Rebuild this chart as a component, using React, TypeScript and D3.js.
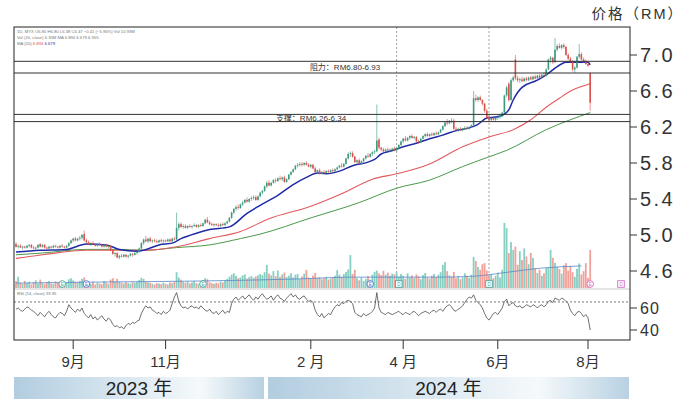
import React from "react";
import * as d3 from "d3";

const W = 690;
const H = 402;

// daily candles [open, high, low, close]
const candles: number[][] = [
  [4.90,4.92,4.86,4.87],[4.87,4.89,4.85,4.88],[4.88,4.90,4.86,4.86],[4.86,4.88,4.84,4.87],[4.87,4.88,4.85,4.86],
  [4.86,4.89,4.85,4.88],[4.88,4.90,4.86,4.89],[4.89,4.90,4.85,4.86],[4.86,4.88,4.84,4.85],[4.85,4.87,4.83,4.86],
  [4.86,4.90,4.85,4.89],[4.90,4.91,4.86,4.87],[4.87,4.90,4.86,4.89],[4.89,4.90,4.85,4.86],[4.86,4.87,4.84,4.85],
  [4.85,4.88,4.84,4.87],[4.87,4.88,4.85,4.86],[4.86,4.89,4.85,4.88],[4.88,4.89,4.86,4.87],[4.87,4.88,4.85,4.86],
  [4.86,4.89,4.85,4.88],[4.88,4.90,4.86,4.87],[4.87,4.88,4.85,4.86],[4.86,4.89,4.85,4.88],[4.88,4.92,4.87,4.91],
  [4.91,4.95,4.90,4.94],[4.94,4.97,4.92,4.96],[4.96,4.98,4.93,4.94],[4.94,4.97,4.93,4.96],[4.96,4.99,4.94,4.97],
  [4.97,5.01,4.95,5.00],[5.01,5.05,4.93,4.94],[4.94,4.96,4.91,4.92],[4.92,4.94,4.89,4.90],[4.90,4.92,4.88,4.91],
  [4.91,4.93,4.89,4.90],[4.90,4.91,4.87,4.88],[4.88,4.91,4.87,4.90],[4.90,4.92,4.88,4.89],[4.89,4.90,4.86,4.87],
  [4.87,4.90,4.86,4.89],[4.89,4.90,4.86,4.87],[4.87,4.89,4.85,4.88],[4.88,4.89,4.82,4.83],[4.83,4.84,4.78,4.79],
  [4.79,4.81,4.76,4.80],[4.80,4.81,4.74,4.75],[4.75,4.78,4.73,4.77],[4.77,4.79,4.75,4.76],[4.76,4.79,4.75,4.78],
  [4.78,4.79,4.75,4.76],[4.76,4.78,4.74,4.77],[4.77,4.80,4.76,4.79],[4.79,4.80,4.76,4.78],[4.78,4.81,4.77,4.80],
  [4.80,4.82,4.78,4.81],[4.81,4.86,4.80,4.85],[4.85,4.92,4.84,4.91],[4.91,4.96,4.89,4.95],[4.95,4.99,4.92,4.93],
  [4.93,4.97,4.91,4.96],[4.96,4.98,4.92,4.93],[4.93,4.95,4.91,4.94],[4.94,4.96,4.92,4.93],[4.93,4.95,4.91,4.92],
  [4.92,4.95,4.91,4.94],[4.94,4.96,4.92,4.93],[4.93,4.95,4.91,4.94],[4.94,4.95,4.92,4.93],[4.93,4.96,4.92,4.95],
  [4.95,4.96,4.92,4.93],[4.93,4.97,4.92,4.96],[4.96,4.98,4.94,4.95],[4.95,5.25,4.94,5.08],[5.08,5.14,5.05,5.12],
  [5.12,5.14,5.08,5.09],[5.09,5.12,5.07,5.10],[5.10,5.12,5.07,5.08],[5.08,5.11,5.07,5.10],[5.10,5.12,5.08,5.09],
  [5.09,5.11,5.07,5.10],[5.10,5.13,5.09,5.11],[5.11,5.12,5.08,5.09],[5.09,5.12,5.08,5.11],[5.11,5.13,5.09,5.10],
  [5.10,5.14,5.09,5.13],[5.13,5.18,5.12,5.17],[5.17,5.20,5.13,5.14],[5.14,5.16,5.11,5.12],[5.12,5.14,5.10,5.11],
  [5.11,5.13,5.09,5.12],[5.12,5.13,5.10,5.11],[5.11,5.13,5.09,5.10],[5.10,5.13,5.09,5.12],[5.12,5.14,5.10,5.11],
  [5.11,5.14,5.10,5.13],[5.13,5.16,5.12,5.15],[5.15,5.20,5.14,5.19],[5.19,5.26,5.18,5.25],[5.25,5.30,5.23,5.29],
  [5.29,5.33,5.27,5.31],[5.31,5.34,5.28,5.30],[5.30,5.35,5.29,5.34],[5.34,5.38,5.32,5.36],[5.36,5.40,5.35,5.39],
  [5.39,5.42,5.36,5.37],[5.37,5.41,5.36,5.40],[5.40,5.43,5.38,5.41],[5.41,5.44,5.39,5.42],[5.42,5.44,5.38,5.39],
  [5.39,5.44,5.38,5.43],[5.43,5.48,5.42,5.47],[5.47,5.50,5.45,5.49],[5.49,5.55,5.48,5.54],[5.54,5.60,5.52,5.58],
  [5.58,5.61,5.54,5.55],[5.55,5.59,5.54,5.58],[5.58,5.62,5.57,5.61],[5.61,5.63,5.58,5.60],[5.60,5.64,5.59,5.63],
  [5.63,5.66,5.61,5.62],[5.62,5.65,5.60,5.64],[5.64,5.66,5.58,5.59],[5.59,5.63,5.58,5.62],[5.62,5.68,5.61,5.67],
  [5.67,5.71,5.66,5.70],[5.70,5.74,5.69,5.73],[5.73,5.78,5.72,5.77],[5.77,5.80,5.75,5.78],[5.78,5.81,5.76,5.79],
  [5.79,5.81,5.76,5.78],[5.78,5.81,5.77,5.80],[5.80,5.82,5.77,5.78],[5.78,5.80,5.75,5.76],[5.76,5.79,5.74,5.78],
  [5.78,5.79,5.73,5.74],[5.74,5.76,5.69,5.70],[5.70,5.73,5.68,5.72],[5.72,5.74,5.67,5.68],[5.68,5.71,5.67,5.70],
  [5.70,5.72,5.68,5.69],[5.69,5.72,5.68,5.71],[5.71,5.73,5.69,5.70],[5.70,5.73,5.69,5.72],[5.72,5.74,5.70,5.71],
  [5.71,5.74,5.70,5.73],[5.73,5.76,5.72,5.75],[5.75,5.78,5.74,5.77],[5.77,5.80,5.75,5.76],[5.76,5.80,5.75,5.79],
  [5.79,5.86,5.78,5.85],[5.85,5.92,5.84,5.90],[5.90,5.93,5.87,5.91],[5.91,5.93,5.86,5.87],[5.87,5.88,5.80,5.81],
  [5.81,5.84,5.78,5.83],[5.83,5.85,5.78,5.79],[5.79,5.83,5.78,5.82],[5.82,5.86,5.81,5.85],[5.85,5.89,5.84,5.88],
  [5.88,5.91,5.86,5.87],[5.87,5.91,5.86,5.90],[5.90,5.93,5.88,5.92],[5.92,5.95,5.90,5.93],[5.93,6.45,5.92,6.05],
  [6.06,6.08,5.95,5.97],[5.97,5.98,5.93,5.95],[5.95,5.97,5.92,5.93],[5.93,5.96,5.92,5.95],[5.95,5.97,5.93,5.94],
  [5.94,5.96,5.92,5.95],[5.95,5.97,5.93,5.96],[5.96,5.98,5.93,5.94],[5.94,5.97,5.93,5.96],[5.96,6.01,5.95,6.00],
  [6.00,6.05,5.99,6.04],[6.04,6.08,6.02,6.07],[6.07,6.10,6.04,6.05],[6.05,6.09,6.04,6.08],[6.08,6.11,6.06,6.10],
  [6.10,6.12,6.07,6.08],[6.08,6.10,6.06,6.09],[6.09,6.10,6.03,6.04],[6.04,6.06,6.01,6.03],[6.03,6.08,6.02,6.07],
  [6.07,6.11,6.06,6.10],[6.10,6.13,6.08,6.12],[6.12,6.14,6.09,6.10],[6.10,6.13,6.09,6.12],[6.12,6.14,6.10,6.11],
  [6.11,6.14,6.10,6.13],[6.13,6.15,6.11,6.12],[6.12,6.15,6.11,6.14],[6.14,6.18,6.13,6.17],[6.17,6.22,6.16,6.21],
  [6.21,6.26,6.20,6.25],[6.25,6.29,6.22,6.24],[6.24,6.28,6.23,6.27],[6.27,6.30,6.24,6.26],[6.27,6.29,6.17,6.18],
  [6.18,6.20,6.15,6.17],[6.17,6.19,6.15,6.18],[6.18,6.20,6.16,6.17],[6.17,6.19,6.15,6.18],[6.18,6.21,6.17,6.19],
  [6.19,6.21,6.17,6.18],[6.18,6.21,6.17,6.20],[6.20,6.23,6.19,6.22],[6.22,6.60,6.21,6.52],[6.52,6.56,6.48,6.50],
  [6.50,6.54,6.48,6.53],[6.53,6.55,6.49,6.50],[6.50,6.51,6.44,6.46],[6.46,6.47,6.36,6.38],[6.38,6.40,6.29,6.31],
  [6.31,6.33,6.26,6.28],[6.28,6.31,6.26,6.30],[6.30,6.32,6.27,6.28],[6.28,6.31,6.26,6.30],[6.30,6.33,6.28,6.31],
  [6.31,6.34,6.29,6.33],[6.33,6.37,6.31,6.36],[6.36,6.56,6.35,6.55],[6.55,6.66,6.53,6.64],[6.68,6.70,6.48,6.50],
  [6.50,6.74,6.49,6.72],[6.72,6.77,6.70,6.75],[6.95,7.00,6.72,6.74],[6.74,6.77,6.70,6.72],[6.72,6.75,6.69,6.73],
  [6.73,6.76,6.70,6.71],[6.71,6.75,6.70,6.74],[6.74,6.76,6.71,6.72],[6.72,6.76,6.71,6.75],[6.75,6.77,6.72,6.73],
  [6.73,6.77,6.72,6.76],[6.76,6.78,6.73,6.74],[6.74,6.78,6.73,6.77],[6.77,6.79,6.74,6.75],[6.75,6.79,6.74,6.78],
  [6.78,6.81,6.76,6.77],[6.77,6.85,6.76,6.84],[6.84,6.96,6.83,6.95],[6.95,6.99,6.91,6.97],[6.97,6.98,6.90,6.92],
  [6.92,7.19,6.91,7.06],[7.06,7.12,7.04,7.10],[7.10,7.13,7.07,7.08],[7.08,7.12,7.06,7.11],[7.11,7.13,7.07,7.09],
  [7.09,7.10,6.99,7.00],[7.00,7.02,6.94,6.96],[6.96,6.98,6.91,6.93],[6.93,6.94,6.82,6.84],[6.84,6.88,6.80,6.86],
  [6.86,6.99,6.85,6.98],[6.98,7.12,6.96,7.01],[7.01,7.03,6.94,6.95],[6.95,6.97,6.91,6.93],[6.93,6.95,6.89,6.90],
  [6.90,6.92,6.87,6.88],[6.80,6.80,6.38,6.47]
];

const volumes: number[] = [
  2.0,3.2,1.5,1.2,2.0,1.4,1.8,1.0,1.6,2.2,1.3,2.4,1.5,1.1,1.7,2.0,1.3,1.2,1.9,1.5,1.0,2.1,1.4,1.6,2.5,2.8,
  2.2,1.8,1.5,2.0,2.6,3.0,1.7,1.4,1.2,1.8,1.0,1.5,1.3,1.1,2.0,1.6,1.2,2.4,2.8,1.9,2.6,1.8,1.5,1.3,1.7,1.4,1.2,1.6,1.5,1.8,
  2.3,2.9,2.6,1.8,1.6,1.5,1.2,1.0,1.4,1.3,1.1,1.5,1.2,1.0,1.6,1.4,1.8,
  4.5,
  3.0,2.4,1.8,1.5,1.9,1.3,1.6,2.0,1.4,1.2,1.7,2.3,2.8,2.5,1.6,1.4,1.2,1.5,1.3,1.8,1.6,2.1,
  2.6,3.2,3.8,4.2,3.5,2.8,3.0,3.6,3.9,2.7,3.1,3.4,2.9,3.3,3.6,4.0,3.7,4.5,6.6,4.1,
  3.6,4.8,3.4,5.0,3.2,3.9,4.4,3.1,3.5,4.2,3.0,3.8,4.0,2.6,3.3,4.1,5.2,3.0,2.7,3.5,4.3,2.9,3.1,2.5,2.8,3.2,2.4,2.7,3.0,3.5,
  5.1,3.8,3.2,4.0,4.6,5.3,9.4,4.0,5.2,2.8,2.2,3.0,2.0,2.6,3.4,2.4,
  3.8,4.6,5.0,4.2,3.7,4.9,3.8,4.4,3.5,4.1,3.9,
  4.4,3.2,4.0,3.5,2.6,4.2,3.0,3.6,2.8,3.9,3.3,2.5,3.7,4.3,3.0,2.7,3.5,4.0,3.1,3.8,4.5,
  6.6,7.4,4.8,3.6,3.2,4.6,2.8,3.4,2.5,3.0,4.2,3.5,2.9,3.8,
  8.9,7.7,6.0,5.2,6.8,7.1,5.0,3.6,4.0,2.8,3.5,4.4,3.0,5.2,
  18.6,17.1,10.0,13.1,10.9,11.8,6.6,10.5,8.0,11.3,9.0,6.8,10.0,8.6,5.7,4.3,5.2,3.5,4.2,5.7,
  5.8,10.9,8.6,7.2,6.0,5.4,4.1,6.5,7.1,5.0,6.3,4.5,3.2,5.5,7.0,3.9,4.8,7.1,2.9,10.9
];

const rsi: number[] = [
  59,60,58,57,59,61,60,58,57,
  55,53,56,54,52,55,57,54,52,51,54,56,55,53,57,
  63,
  60,58,56,59,57,60,55,
  53,51,54,50,52,49,51,53,50,48,51,49,
  45,43,44,42,43,41,44,
  46,45,47,46,48,49,
  55,59,62,60,61,58,
  57,55,56,54,57,55,
  56,58,
  64,70,74,
  66,62,60,61,59,61,62,60,61,59,62,
  60,58,57,59,56,55,57,54,56,58,55,57,
  56,
  64,68,70,
  67,69,71,68,70,72,69,67,70,68,71,73,70,68,69,71,67,70,72,69,68,66,69,71,73,70,72,69,68,70,71,68,66,67,65,
  58,54,52,55,51,53,55,54,
  58,61,63,62,65,64,66,
  67,66,64,56,
  54,53,52,55,53,54,55,57,
  60,74,
  60,56,55,54,56,55,54,55,56,57,55,54,56,55,54,56,57,55,53,55,56,57,56,55,57,58,56,58,59,57,60,
  62,63,61,58,57,59,60,
  62,65,68,70,69,72,
  67,65,63,60,
  55,51,49,52,
  55,56,54,57,
  60,66,68,
  62,64,65,62,61,62,60,61,63,62,61,63,62,60,62,63,61,63,66,
  67,65,69,68,67,69,68,66,64,
  58,55,53,56,57,
  55,52,54,51,
  40
];

// moving averages, sampled [dayIndex, value]
const maShort: number[][] = [
  [0,4.81],[11,4.83],[23,4.84],[32,4.90],[41,4.89],[47,4.84],[55,4.82],[58,4.83],[65,4.89],[71,4.91],
  [75,4.96],[82,5.02],[88,5.06],[97,5.09],[105,5.24],[111,5.33],[119,5.44],[126,5.56],[132,5.64],[137,5.69],
  [141,5.68],[147,5.71],[153,5.77],[160,5.81],[163,5.84],[166,5.90],[170,5.93],[176,5.98],[182,6.02],[188,6.07],
  [194,6.11],[200,6.16],[206,6.19],[210,6.23],[214,6.30],[218,6.31],[221,6.33],[224,6.39],[226,6.50],[230,6.64],
  [237,6.72],[241,6.78],[246,6.87],[250,6.92],[255,6.92],[260,6.92],[261,6.89]
];
const maMid: number[][] = [
  [0,4.74],[12,4.78],[32,4.83],[47,4.83],[58,4.83],[73,4.87],[88,4.96],[102,5.04],[115,5.18],[134,5.32],
  [149,5.47],[162,5.62],[173,5.68],[188,5.79],[203,5.98],[215,6.09],[226,6.17],[234,6.28],[241,6.42],[247,6.52],
  [253,6.61],[261,6.68]
];
const maLong: number[][] = [
  [0,4.78],[12,4.80],[32,4.84],[47,4.84],[58,4.83],[73,4.86],[88,4.89],[102,4.96],[111,5.01],[134,5.19],
  [156,5.36],[173,5.52],[188,5.61],[203,5.76],[214,5.86],[223,5.94],[241,6.17],[261,6.36]
];
const volMa: number[][] = [
  [0,1.4],[38,1.7],[84,2.0],[129,2.6],[152,3.1],[193,3.1],[209,3.4],[221,4.3],[239,5.7],[257,6.3]
];

const priceTicks = [7.0, 6.6, 6.2, 5.8, 5.4, 5.0, 4.6];
const rsiTicks = [60, 40];
const rsiRefLevel = 65.5;
const monthLabels = ["9月", "11月", "2 月", "4 月", "6月", "8月"];
const monthIdx = [26, 68, 134, 176, 219, 260];
const yearLabels = ["2023 年", "2024 年"];
const resistance = [6.80, 6.93];
const support = [6.26, 6.34];
const resistanceLabel = "阻力：RM6.80-6.93";
const supportLabel = "支撑：RM6.26-6.34";
const separatorIdx = [173, 215];
const markerIdx = [21, 32, 85, 161, 174, 215, 261, 275];
const markerKind = ["ct", "cb", "ct", "cb", "st", "st", "cp", "sp"];

const UP = "#3d9a7f";
const DOWN = "#d9504c";
const VUP = "#86cfc2";
const VDOWN = "#f2a09a";
const LATIN = "'Liberation Sans', Arial, 'Noto Sans CJK SC', sans-serif";
const CJK = "'Liberation Sans', 'Noto Sans CJK SC', sans-serif";
const NARROW = "'Liberation Sans Narrow', 'Liberation Sans', 'Noto Sans CJK SC', sans-serif";

export default function App() {
  const frameL = 14, frameR = 630, frameT = 27, frameB = 340;
  const x = d3.scaleLinear().domain([0, 261]).range([16, 590.2]);
  const y = d3.scaleLinear().domain([4.6, 7.0]).range([271, 55]);
  const yVol = d3.scaleLinear().domain([0, 20]).range([288, 218]);
  const yRsi = d3.scaleLinear().domain([40, 60]).range([330, 308]);

  const maLine = d3.line<number[]>().x(d => x(d[0])).y(d => y(d[1])).curve(d3.curveMonotoneX);
  const volMaLine = d3.line<number[]>().x(d => x(d[0])).y(d => yVol(d[1])).curve(d3.curveMonotoneX);
  const rsiLine = d3.line<number>().x((_, i) => x(i)).y(d => yRsi(d));

  const bw = 1.6;

  return (
    <svg width={W} height={H} style={{ position: "absolute", left: 0, top: 0, background: "#fff" }}>
      <defs>
        <linearGradient id="yearGrad" x1="0" x2="1" y1="0" y2="0">
          <stop offset="0" stopColor="#b2cde0" />
          <stop offset="0.4" stopColor="#d6e5ef" />
          <stop offset="0.75" stopColor="#f5f9fb" />
          <stop offset="1" stopColor="#b8d1e2" />
        </linearGradient>
        <clipPath id="plotClip">
          <rect x={frameL} y={frameT} width={frameR - frameL} height={frameB - frameT} />
        </clipPath>
      </defs>
      <rect x={0} y={0} width={W} height={H} fill="#fff" />

      {/* title */}
      <text x={684} y={19} textAnchor="end" fontFamily={CJK} fontSize={14.5} letterSpacing={2} fill="#333">价格（RM）</text>

      <g clipPath="url(#plotClip)">
        {/* month separators */}
        {separatorIdx.map((s, i) => (
          <line key={"sep" + i} x1={x(s)} x2={x(s)} y1={frameT} y2={282} stroke="#8a8a8a" strokeWidth={0.8} strokeDasharray="2,2" />
        ))}

        {/* volume bars */}
        {volumes.map((v, i) => {
          const c = candles[i];
          const up = c ? c[3] >= c[0] : true;
          return (
            <rect key={"v" + i} x={x(i) - 0.9} width={1.8} y={yVol(v)} height={288 - yVol(v)} fill={up ? VUP : VDOWN} />
          );
        })}
        <path d={volMaLine(volMa) || ""} fill="none" stroke="#5b86c8" strokeWidth={0.8} />

        {/* volume / rsi separator */}
        <line x1={frameL} x2={frameR} y1={289} y2={289} stroke="#bdbdbd" strokeWidth={0.8} />

        {/* moving averages */}
        <path d={maLine(maLong) || ""} fill="none" stroke="#4a9a4a" strokeWidth={1} />
        <path d={maLine(maMid) || ""} fill="none" stroke="#e25a5e" strokeWidth={1.1} />
        <path d={maLine(maShort) || ""} fill="none" stroke="#1f2aa8" strokeWidth={1.5} />

        {/* candles */}
        {candles.map((c, i) => {
          const [o, h, l, cl] = c;
          const up = cl >= o;
          const col = up ? UP : DOWN;
          const top = y(Math.max(o, cl));
          const bh = Math.max(0.8, Math.abs(y(o) - y(cl)));
          return (
            <g key={"c" + i}>
              <line x1={x(i)} x2={x(i)} y1={y(h)} y2={y(l)} stroke={col} strokeWidth={0.6} />
              <rect x={x(i) - bw / 2} y={top} width={bw} height={bh} fill={col} />
            </g>
          );
        })}

        {/* resistance / support */}
        {[...resistance, ...support].map((v, i) => (
          <line key={"rs" + i} x1={frameL} x2={frameR} y1={y(v)} y2={y(v)} stroke="#333" strokeWidth={1} />
        ))}
        <text x={345} y={y((resistance[0] + resistance[1]) / 2) + 3} textAnchor="middle" fontFamily={CJK} fontSize={8} fill="#333">{resistanceLabel}</text>
        <text x={311} y={y((support[0] + support[1]) / 2) + 3} textAnchor="middle" fontFamily={CJK} fontSize={8} fill="#333">{supportLabel}</text>

        {/* event markers */}
        {markerIdx.map((m, i) => {
          const k = markerKind[i];
          const col = k[1] === "t" ? "#4aa79a" : k[1] === "b" ? "#4d6fd6" : "#d26fc8";
          const cx = x(m);
          const cy = 284;
          return k[0] === "c" ? (
            <g key={"m" + i}>
              <circle cx={cx} cy={cy} r={3.3} fill="#fff" stroke={col} strokeWidth={0.9} />
              <text x={cx} y={cy + 1.6} textAnchor="middle" fontSize={4.5} fontFamily={LATIN} fill={col}>E</text>
            </g>
          ) : (
            <g key={"m" + i}>
              <rect x={cx - 3.3} y={cy - 3.3} width={6.6} height={6.6} fill="#fff" stroke={col} strokeWidth={0.9} />
              <text x={cx} y={cy + 1.6} textAnchor="middle" fontSize={4.5} fontFamily={LATIN} fill={col}>D</text>
            </g>
          );
        })}

        {/* RSI */}
        <line x1={frameL} x2={frameR} y1={yRsi(rsiRefLevel)} y2={yRsi(rsiRefLevel)} stroke="#555" strokeWidth={0.8} strokeDasharray="2,2" />
        <path d={rsiLine(rsi) || ""} fill="none" stroke="#4a4a4a" strokeWidth={0.8} />
        <text x={17} y={295} fontSize={4.2} fontFamily={LATIN} fill="#777">RSI (14, close)  39.95</text>

        {/* header */}
        <text x={17} y={33} fontSize={4.2} fontFamily={LATIN} fill="#777">1D, MYX  O6.80  H6.80  L6.38  C6.47  −0.41 (−5.96%)  Vol 10.93M</text>
        <text x={17} y={39} fontSize={4.2} fontFamily={LATIN} fill="#777">Vol (20, close)  6.35M  MA 6.894  6.679  6.355</text>
        <text x={17} y={45} fontSize={4.2} fontFamily={LATIN} fill="#777">MA (20)  <tspan fill="#d9504c">6.894</tspan>  <tspan fill="#1f2aa8">6.679</tspan></text>
      </g>

      {/* frame */}
      <rect x={frameL} y={frameT} width={frameR - frameL} height={frameB - frameT} fill="none" stroke="#222" strokeWidth={1} />

      {/* right price axis */}
      {priceTicks.map((t, i) => (
        <g key={"pt" + i}>
          <line x1={frameR} x2={frameR + 7} y1={y(t)} y2={y(t)} stroke="#333" strokeWidth={1} />
          <text x={frameR + 10} y={y(t)} dy="0.36em" fontFamily={LATIN} fontSize={20} letterSpacing={2.4} fill="#333">{t.toFixed(1)}</text>
        </g>
      ))}
      {rsiTicks.map((t, i) => (
        <g key={"rt" + i}>
          <line x1={frameR} x2={frameR + 7} y1={yRsi(t)} y2={yRsi(t)} stroke="#333" strokeWidth={1} />
          <text x={frameR + 10} y={yRsi(t)} dy="0.36em" fontFamily={LATIN} fontSize={16} letterSpacing={1} fill="#333">{t}</text>
        </g>
      ))}

      {/* bottom month axis */}
      {monthIdx.map((m, i) => (
        <g key={"mt" + i}>
          <line x1={x(m)} x2={x(m)} y1={frameB} y2={frameB + 9} stroke="#333" strokeWidth={1} />
          <text x={x(m)} y={367} textAnchor="middle" fontFamily={NARROW} fontSize={15} fill="#333">{monthLabels[i]}</text>
        </g>
      ))}

      {/* year bands */}
      <rect x={14} y={377} width={250} height={22} fill="url(#yearGrad)" />
      <rect x={268} y={377} width={361} height={22} fill="url(#yearGrad)" />
      <text x={139} y={394.5} textAnchor="middle" fontFamily={NARROW} fontSize={19} fill="#222">{yearLabels[0]}</text>
      <text x={448.5} y={394.5} textAnchor="middle" fontFamily={NARROW} fontSize={19} fill="#222">{yearLabels[1]}</text>
    </svg>
  );
}
